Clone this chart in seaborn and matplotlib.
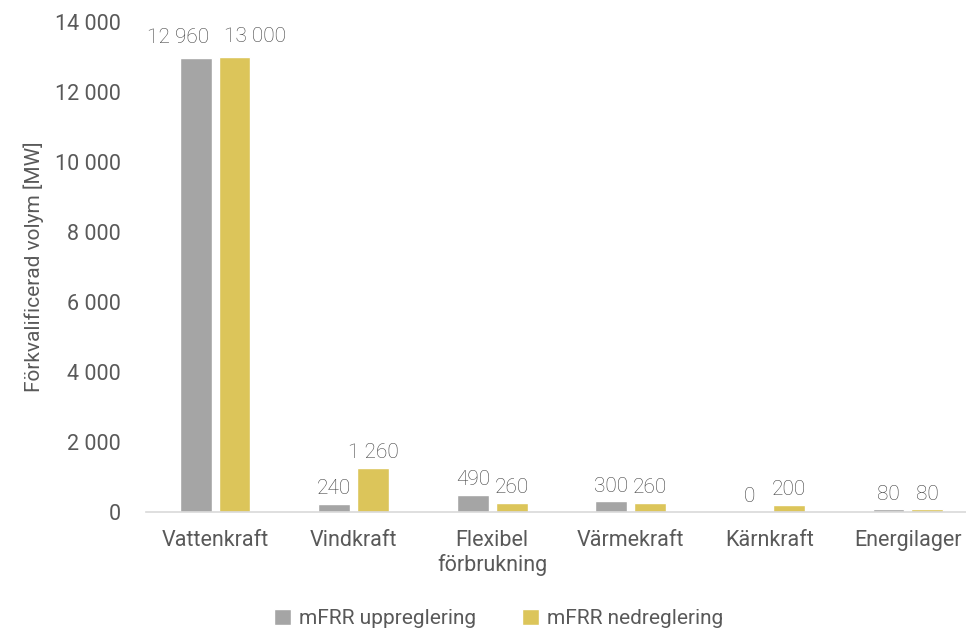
import pandas as pd
import matplotlib.pyplot as plt
import seaborn as sns

categories = ["Vattenkraft", "Vindkraft", "Flexibel\nförbrukning", "Värmekraft", "Kärnkraft", "Energilager"]
upp = [12960, 240, 490, 300, 0, 80]
ned = [13000, 1260, 260, 260, 200, 80]
series = ["mFRR uppreglering", "mFRR nedreglering"]
yticks = [0, 2000, 4000, 6000, 8000, 10000, 12000, 14000]

df = pd.DataFrame({
    "kategori": categories * 2,
    "serie": [series[0]] * len(categories) + [series[1]] * len(categories),
    "MW": upp + ned,
})

def fmt(v):
    return f"{int(v):,}".replace(",", " ")

sns.set_style("white")
plt.rcParams['font.family'] = ['Roboto', 'DejaVu Sans']
text_col = "#595959"

fig = plt.figure(figsize=(9.66, 6.38), dpi=100)
ax = fig.add_axes([0.151, 0.1975, 0.849, 0.768])

sns.barplot(data=df, x="kategori", y="MW", hue="serie", order=categories, hue_order=series,
            palette=["#A5A5A5", "#DCC55A"], saturation=1, width=0.56, gap=0.18, ax=ax, legend=True)

for k, cont in enumerate(ax.containers):
    anns = ax.bar_label(cont, labels=[fmt(v) for v in cont.datavalues], padding=4,
                        fontsize=15, color="#404040", fontweight="light")
    # the two tall bars: push labels apart like in the original
    anns[0].xyann = (-13 if k == 0 else 15, 8)

ax.set_xlim(-0.5, 5.42)
ax.set_ylim(0, 14000)
ax.set_yticks(yticks)
ax.set_yticklabels([fmt(v) for v in yticks])
ax.tick_params(axis="both", length=0, labelsize=15.5, labelcolor=text_col)
ax.tick_params(axis="x", pad=13)
ax.tick_params(axis="y", pad=18)
ax.set_xlabel("")
ax.set_ylabel("Förkvalificerad volym [MW]", fontsize=15, color=text_col, labelpad=8)

for s in ["top", "right", "left"]:
    ax.spines[s].set_visible(False)
ax.spines["bottom"].set_color("#D9D9D9")
ax.spines["bottom"].set_linewidth(1.2)

ax.legend(loc="lower center", bbox_to_anchor=(0.43, -0.275), ncol=2, frameon=False,
          fontsize=15, handlelength=0.8, handleheight=0.8, handletextpad=0.4,
          columnspacing=2.2, labelcolor=text_col)

fig.savefig("out.png", dpi=100)
